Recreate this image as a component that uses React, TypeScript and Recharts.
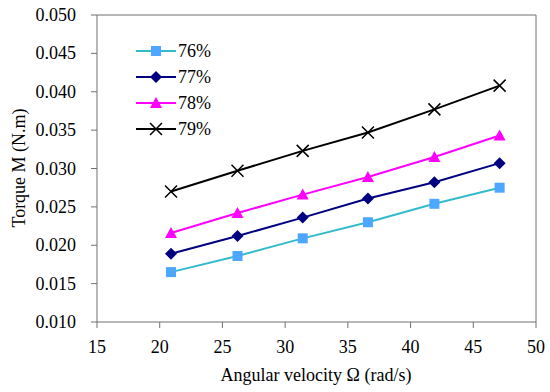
import { LineChart, Line, XAxis, YAxis, ReferenceLine } from "recharts";

const omega = [20.9, 26.2, 31.4, 36.6, 41.9, 47.1];
const torque76 = [0.0165, 0.0186, 0.0209, 0.023, 0.0254, 0.0275];
const torque77 = [0.0189, 0.0212, 0.0236, 0.0261, 0.0282, 0.0307];
const torque78 = [0.0216, 0.0242, 0.0266, 0.0289, 0.0315, 0.0343];
const torque79 = [0.027, 0.0297, 0.0323, 0.0347, 0.0377, 0.0408];
const xTicks = [15, 20, 25, 30, 35, 40, 45, 50];
const yTicks = [0.01, 0.015, 0.02, 0.025, 0.03, 0.035, 0.04, 0.045, 0.05];

const data = omega.map((w, i) => ({
  w,
  t76: torque76[i],
  t77: torque77[i],
  t78: torque78[i],
  t79: torque79[i],
}));

const font = "'Liberation Serif', 'DejaVu Serif', serif";
const txt = { fontFamily: font, fontSize: 18 };
const axisColor = "#707070";

type Mark = "square" | "diamond" | "triangle" | "cross";

const series: { key: string; name: string; line: string; fill: string; mark: Mark }[] = [
  { key: "t76", name: "76%", line: "#33BBCC", fill: "#4DA6FF", mark: "square" },
  { key: "t77", name: "77%", line: "#000080", fill: "#000080", mark: "diamond" },
  { key: "t78", name: "78%", line: "#FF00FF", fill: "#FF00FF", mark: "triangle" },
  { key: "t79", name: "79%", line: "#000000", fill: "#000000", mark: "cross" },
];

function marker(mark: Mark, cx: number, cy: number, fill: string, key?: string) {
  if (mark === "square")
    return <rect key={key} x={cx - 5} y={cy - 5} width={10} height={10} fill={fill} />;
  if (mark === "diamond")
    return (
      <polygon
        key={key}
        points={`${cx},${cy - 6} ${cx + 6},${cy} ${cx},${cy + 6} ${cx - 6},${cy}`}
        fill={fill}
      />
    );
  if (mark === "triangle")
    return (
      <polygon
        key={key}
        points={`${cx},${cy - 6} ${cx + 6},${cy + 5} ${cx - 6},${cy + 5}`}
        fill={fill}
      />
    );
  return (
    <path
      key={key}
      d={`M${cx - 6},${cy - 6}L${cx + 6},${cy + 6}M${cx + 6},${cy - 6}L${cx - 6},${cy + 6}`}
      stroke={fill}
      strokeWidth={1.5}
    />
  );
}

function XTick(p: any) {
  return (
    <text x={p.x} y={p.y + 23} textAnchor="middle" fill="#000" style={txt}>
      {p.payload.value}
    </text>
  );
}

function YTick(p: any) {
  return (
    <text x={p.x - 13} y={p.y + 6} textAnchor="end" fill="#000" style={txt}>
      {Number(p.payload.value).toFixed(3)}
    </text>
  );
}

function YTitle() {
  return (
    <text x={25} y={168} transform="rotate(-90 25 168)" textAnchor="middle" fill="#000" style={txt}>
      Torque M (N.m)
    </text>
  );
}

function XTitle() {
  return (
    <text x={316} y={381} textAnchor="middle" fill="#000" style={txt}>
      Angular velocity Ω (rad/s)
    </text>
  );
}

function LegendBox() {
  return (
    <svg width={110} height={110} style={{ position: "absolute", left: 134, top: 39 }}>
      {series.map((s, i) => {
        const y = 12 + i * 26;
        return (
          <g key={s.key}>
            <line x1={2} x2={42} y1={y} y2={y} stroke={s.line} strokeWidth={2} />
            {marker(s.mark, 22, y, s.fill)}
            <text x={44} y={y + 6} fill="#000" style={txt}>
              {s.name}
            </text>
          </g>
        );
      })}
    </svg>
  );
}

export default function App() {
  return (
    <div style={{ position: "absolute", left: 0, top: 0, width: 550, height: 392, background: "#fff" }}>
      <LineChart
        width={550}
        height={392}
        data={data}
        margin={{ top: 15, right: 14, bottom: 0, left: 0 }}
      >
        <XAxis
          dataKey="w"
          type="number"
          domain={[15, 50]}
          ticks={xTicks}
          height={70}
          stroke={axisColor}
          tickSize={6}
          tick={XTick}
          label={XTitle}
        />
        <YAxis
          type="number"
          domain={[0.01, 0.05]}
          ticks={yTicks}
          width={97}
          stroke={axisColor}
          tickSize={6}
          tick={YTick}
          label={YTitle}
        />
        <ReferenceLine y={0.05} stroke={axisColor} />
        <ReferenceLine x={50} stroke={axisColor} />
        {series.map((s) => (
          <Line
            key={s.key}
            dataKey={s.key}
            name={s.name}
            stroke={s.line}
            strokeWidth={2}
            isAnimationActive={false}
            dot={(p: any) => marker(s.mark, p.cx, p.cy, s.fill, `${s.key}-${p.index}`)}
            activeDot={false}
          />
        ))}
      </LineChart>
      <LegendBox />
    </div>
  );
}
